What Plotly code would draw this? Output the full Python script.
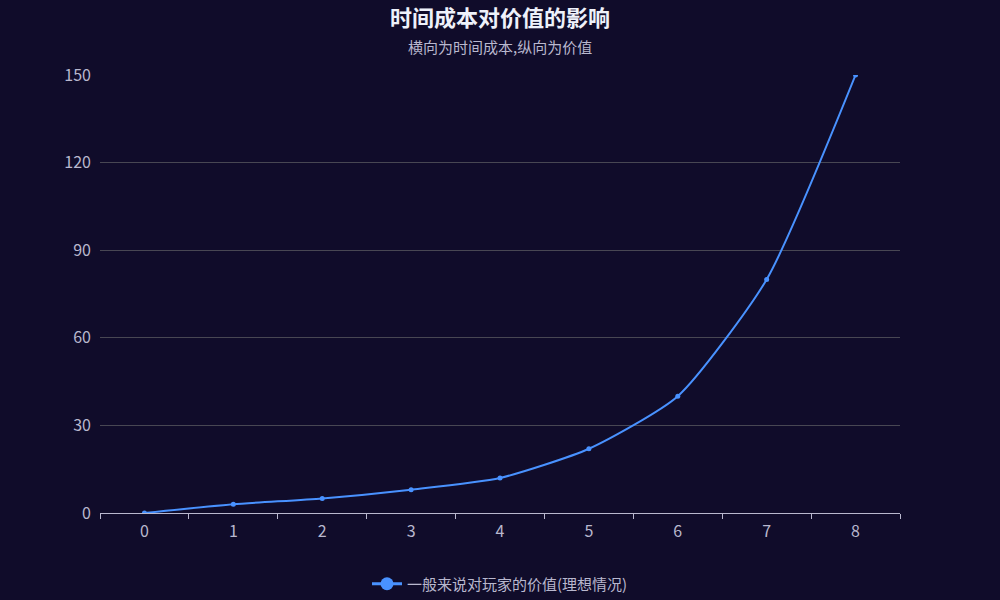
import plotly.graph_objects as go

categories = ["0", "1", "2", "3", "4", "5", "6", "7", "8"]
values = [0, 3, 5, 8, 12, 22, 40, 80, 150]
series_name = "一般来说对玩家的价值(理想情况)"
title_text = "时间成本对价值的影响"
subtitle_text = "横向为时间成本,纵向为价值"
y_ticks = [0, 30, 60, 90, 120, 150]

xs = list(range(len(categories)))
bounds = [i - 0.5 for i in range(len(categories) + 1)]

fig = go.Figure()
fig.add_trace(go.Scatter(
    x=xs, y=values, name=series_name, mode="lines+markers", showlegend=False,
    line=dict(color="#4992ff", width=2, shape="spline", smoothing=0.6),
    marker=dict(color="#4992ff", size=5),
))
# legend entry with larger symbol
fig.add_trace(go.Scatter(
    x=[None], y=[None], name=series_name, mode="lines+markers",
    line=dict(color="#4992ff", width=3),
    marker=dict(color="#4992ff", size=13),
))

font = "Noto Sans CJK SC, Noto Sans, sans-serif"
fig.update_layout(
    width=1000, height=600,
    paper_bgcolor="#100c2a", plot_bgcolor="#100c2a",
    margin=dict(l=100, r=100, t=75, b=87, autoexpand=False),
    font=dict(family=font, color="#B9B8CE", size=14),
    showlegend=True,
    legend=dict(orientation="h", x=0.5, xanchor="center",
                yref="container", y=1 - 584 / 600, yanchor="middle",
                font=dict(size=15, color="#B9B8CE"), bgcolor="rgba(0,0,0,0)",
                itemwidth=30),
    xaxis=dict(
        range=[-0.5, 8.5], tickvals=xs, ticktext=categories, ticks="",
        showgrid=False, zeroline=False, showline=True, linecolor="#B9B8CE", linewidth=1,
        tickfont=dict(size=16, color="#B9B8CE"), ticklabelstandoff=4,
        minor=dict(tickvals=bounds, ticks="outside", ticklen=5, tickcolor="#B9B8CE", showgrid=False),
        fixedrange=True,
    ),
    yaxis=dict(
        range=[0, 150], tickvals=y_ticks, showgrid=True, gridcolor="#484753", gridwidth=1,
        zeroline=False, showline=False, ticks="", ticklabelstandoff=8,
        tickfont=dict(size=16, color="#B9B8CE"), fixedrange=True,
    ),
    annotations=[
        dict(text="<b>" + title_text + "</b>", x=0.5, xref="paper", y=0, yref="paper",
             yanchor="middle", showarrow=False, font=dict(size=22, color="#EEF1FA")),
        dict(text=subtitle_text, x=0.5, xref="paper", y=0, yref="paper",
             yanchor="middle", showarrow=False, font=dict(size=15, color="#B9B8CE")),
    ],
)
ph = 600 - 75 - 87
for a, py in zip(fig.layout.annotations, [16, 47]):
    a.y = (600 - 87 - py) / ph

fig.write_html("out.html")
